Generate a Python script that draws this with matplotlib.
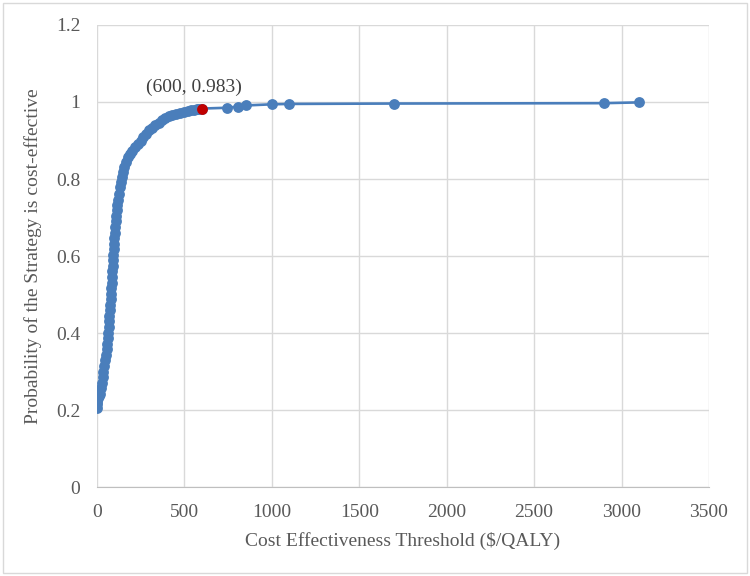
import matplotlib
matplotlib.use('Agg')
import matplotlib.pyplot as plt
from matplotlib.patches import Rectangle

# CEAC points (threshold $/QALY, probability)
threshold = [0, 0, 3, 7, 12, 17, 22, 27, 32, 37, 42, 48, 52, 56, 59, 62, 65, 67, 69, 71,
             73, 75, 78, 80, 82, 84, 86, 88, 90, 92, 94, 95, 97, 99, 101, 103, 106, 110, 113, 117,
             120, 126, 132, 137, 143, 149, 156, 165, 176, 188, 200, 216, 233, 249, 265, 282, 300, 317, 334, 353,
             372, 391, 410, 431, 452, 476, 500, 519, 538, 555, 571, 585, 600,
             742, 804, 850, 1000, 1099, 1700, 2900, 3101]
prob = [0.205, 0.215, 0.222, 0.230, 0.236, 0.242, 0.256, 0.270, 0.286, 0.300, 0.314, 0.329, 0.343, 0.358, 0.372, 0.387, 0.401, 0.416, 0.430, 0.445,
        0.459, 0.473, 0.488, 0.502, 0.516, 0.531, 0.545, 0.560, 0.574, 0.589, 0.603, 0.618, 0.632, 0.646, 0.660, 0.675, 0.690, 0.705, 0.719, 0.732,
        0.745, 0.762, 0.779, 0.792, 0.805, 0.818, 0.831, 0.844, 0.857, 0.866, 0.874, 0.883, 0.892, 0.900, 0.909, 0.917, 0.926, 0.932, 0.939, 0.946,
        0.952, 0.958, 0.963, 0.967, 0.970, 0.972, 0.974, 0.976, 0.978, 0.980, 0.982, 0.982, 0.983,
        0.985, 0.988, 0.991, 0.994, 0.995, 0.996, 0.997, 0.999]

# highlighted point
hl_x = 600
hl_y = 0.983

plt.rcParams['font.family'] = ['Liberation Serif', 'DejaVu Serif']
text_col = '#595959'
blue = '#4a7ebb'

fig = plt.figure(figsize=(7.5, 5.76), dpi=100)
ax = fig.add_axes([0.1293, 0.1545, 0.8160, 0.8021])

ax.plot(threshold, prob, color=blue, linewidth=1.9, marker='o', markersize=7.8,
        markeredgewidth=0, zorder=3)
ax.plot([hl_x], [hl_y], marker='o', color='#c00000', markersize=7.8,
        markeredgewidth=0, zorder=4)
ax.text(557, 1.038, '(600, 0.983)', ha='center', va='center', fontsize=14, color='#404040')

ax.set_xlim(0, 3500)
ax.set_ylim(0, 1.2)
ax.set_xticks(range(0, 3501, 500))
ax.set_yticks([0, 0.2, 0.4, 0.6, 0.8, 1, 1.2])
ax.set_yticklabels(['0', '0.2', '0.4', '0.6', '0.8', '1', '1.2'])
ax.grid(True, color='#d9d9d9', linewidth=1)
ax.set_axisbelow(True)
for s in ['top', 'right', 'left']:
    ax.spines[s].set_visible(False)
ax.spines['bottom'].set_color('#bfbfbf')
ax.tick_params(length=0, labelsize=14, labelcolor=text_col, pad=12)

ax.set_xlabel('Cost Effectiveness Threshold ($/QALY)', fontsize=14, color=text_col, labelpad=8)
ax.set_ylabel('Probability of the Strategy is cost-effective', fontsize=14, color=text_col, labelpad=10)

# outer chart border
fig.patches.append(Rectangle((0.004, 0.005), 0.992, 0.99, transform=fig.transFigure,
                             fill=False, edgecolor='#d9d9d9', linewidth=1))

fig.savefig('out.png', dpi=100)
